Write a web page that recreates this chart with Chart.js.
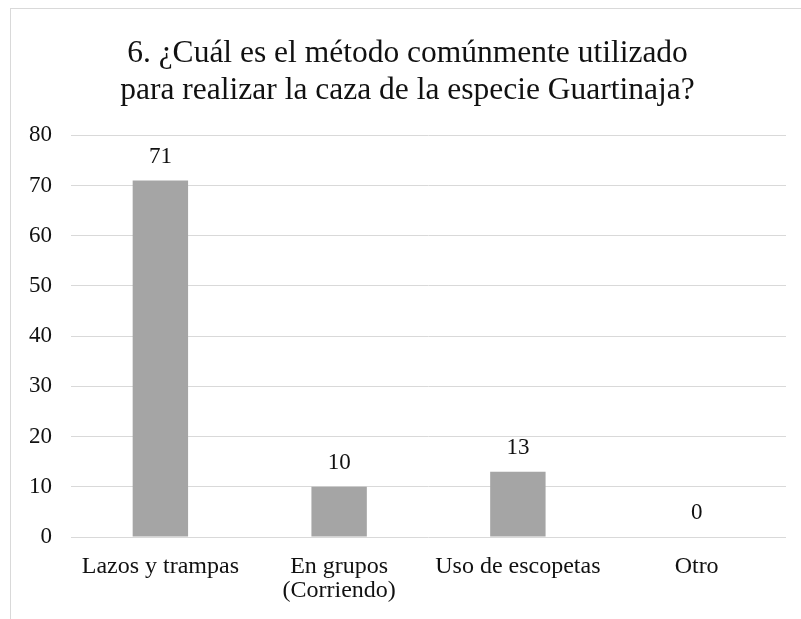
<!DOCTYPE html>
<html>
<head>
<meta charset="utf-8">
<script src="https://cdn.jsdelivr.net/npm/chart.js@4"></script>
<style>
  html, body { margin: 0; padding: 0; background: #fff; }
  #wrap { position: relative; width: 801px; height: 619px; overflow: hidden; }
  #frame { position: absolute; left: 10px; top: 8px; width: 820px; height: 640px; border: 1px solid #d9d9d9; box-sizing: border-box; }
  canvas { position: absolute; left: 0; top: 0; }
</style>
</head>
<body>
<div id="wrap">
  <div id="frame"></div>
  <canvas id="c" width="801" height="619"></canvas>
</div>
<script>
const titleLines = ["6. ¿Cuál es el método comúnmente utilizado", "para realizar la caza de la especie Guartinaja?"];
const categories = ["Lazos y trampas", ["En grupos", "(Corriendo)"], "Uso de escopetas", "Otro"];
const values = [71, 10, 13, 0];
const yTicks = [0, 10, 20, 30, 40, 50, 60, 70, 80];

const FONT = "'Liberation Serif', 'Times New Roman', serif";

const dataLabels = {
  id: 'dataLabels',
  afterDatasetsDraw(chart) {
    const ctx = chart.ctx;
    const meta = chart.getDatasetMeta(0);
    ctx.save();
    ctx.font = '23px ' + FONT;
    ctx.fillStyle = '#111';
    ctx.textAlign = 'center';
    ctx.textBaseline = 'middle';
    meta.data.forEach((bar, i) => {
      ctx.fillText(String(values[i]), bar.x, bar.y - 24);
    });
    ctx.restore();
  }
};

new Chart(document.getElementById('c'), {
  type: 'bar',
  data: {
    labels: categories,
    datasets: [{
      data: values,
      backgroundColor: '#a5a5a5',
      borderWidth: 0,
      categoryPercentage: 1,
      barPercentage: 0.31
    }]
  },
  options: {
    responsive: false,
    animation: false,
    devicePixelRatio: 1,
    layout: { padding: { left: 29, right: 15, top: 0, bottom: 0 } },
    plugins: {
      legend: { display: false },
      tooltip: { enabled: false },
      title: {
        display: true,
        text: titleLines,
        color: '#111',
        font: { family: FONT, size: 31.5, weight: 'normal', lineHeight: 1.18 },
        padding: { top: 35, bottom: 26 }
      }
    },
    scales: {
      x: {
        grid: { display: false, drawTicks: false },
        border: { display: false },
        ticks: {
          color: '#111',
          font: { family: FONT, size: 24, lineHeight: 0.98 },
          padding: 18,
          maxRotation: 0,
          autoSkip: false
        },
        afterFit(scale) { scale.height = 82; }
      },
      y: {
        min: 0,
        max: 80,
        afterBuildTicks(scale) { scale.ticks = yTicks.map(v => ({ value: v })); },
        grid: { color: '#d9d9d9', lineWidth: 1, drawTicks: false },
        border: { display: false },
        ticks: {
          color: '#111',
          font: { family: FONT, size: 23 },
          padding: 19
        },
        afterFit(scale) { scale.width = 42; }
      }
    }
  },
  plugins: [dataLabels]
});
</script>
</body>
</html>
